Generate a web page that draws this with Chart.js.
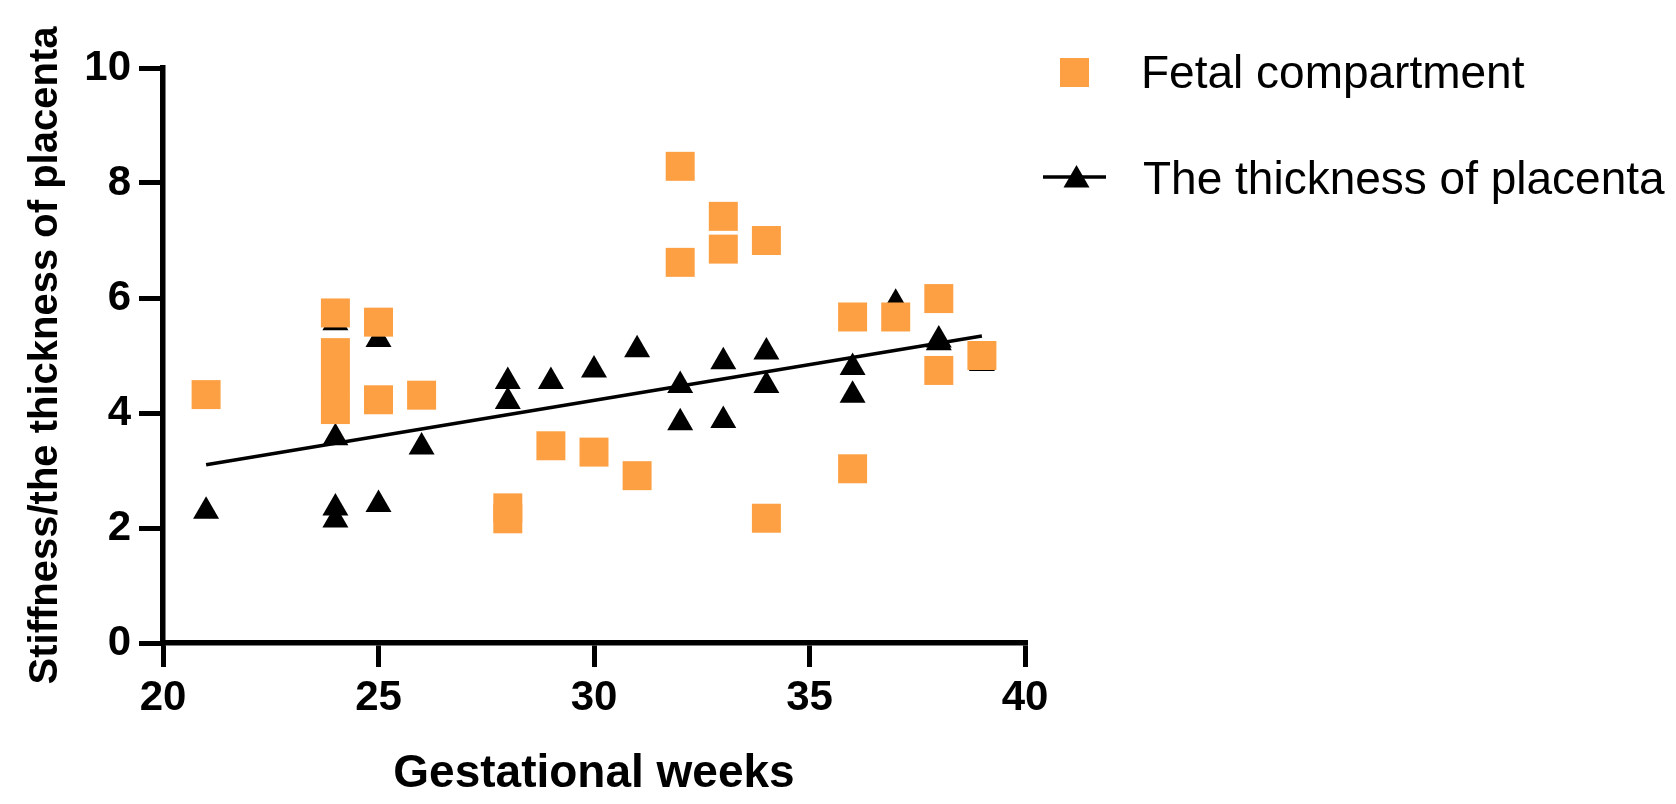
<!DOCTYPE html>
<html>
<head>
<meta charset="utf-8">
<script src="https://cdn.jsdelivr.net/npm/chart.js@4"></script>
<style>
  html, body { margin: 0; padding: 0; background: #ffffff; }
  #wrap { width: 1676px; height: 804px; position: relative; }
</style>
</head>
<body>
<div id="wrap"><canvas id="c" width="1676" height="804"></canvas></div>
<script>
// ---- Data ----
const fetalWeeks  = [21, 24, 24, 24, 24, 25, 25, 26, 28, 28, 29, 30, 31, 32, 32, 33, 33, 34, 34, 36, 36, 37, 38, 38, 39];
const fetalValues = [4.32, 5.74, 5.05, 4.55, 4.06, 5.58, 4.23, 4.31, 2.35, 2.16, 3.43, 3.32, 2.91, 8.29, 6.62, 7.42, 6.85, 7.00, 2.17, 5.67, 3.03, 5.67, 5.99, 4.74, 5.00];

const thickWeeks  = [21, 24, 24, 24, 24, 25, 25, 26, 28, 28, 29, 30, 31, 32, 32, 33, 33, 34, 34, 36, 36, 37, 38, 38, 39];
const thickValues = [2.29, 5.57, 3.57, 2.35, 2.14, 5.28, 2.41, 3.41, 4.55, 4.20, 4.55, 4.75, 5.10, 4.48, 3.83, 4.89, 3.87, 5.06, 4.48, 4.79, 4.31, 5.91, 5.27, 5.22, 4.86];

const fitWeeks  = [21, 39];
const fitValues = [3.10, 5.34];

const xTicks = [20, 25, 30, 35, 40];
const yTicks = [0, 2, 4, 6, 8, 10];

const seriesLabels = ['Fetal compartment', 'The thickness of placenta'];
const xTitle = 'Gestational weeks';
const yTitle = 'Stiffness/the thickness of placenta';

// ---- Styles ----
const ORANGE = '#FDA044';
const FONT = "'Liberation Sans', Arial, Helvetica, sans-serif";

const toPts = (xs, ys) => xs.map((x, i) => ({ x: x, y: ys[i] }));

const customLegend = {
  id: 'customLegend',
  afterDraw(chart) {
    const ctx = chart.ctx;
    const ds = chart.data.datasets;
    ctx.save();
    // entry 1: square
    ctx.fillStyle = ds[0].backgroundColor;
    ctx.fillRect(1060, 58, 29, 29);
    ctx.fillStyle = '#000';
    ctx.font = '46px ' + FONT;
    ctx.textBaseline = 'alphabetic';
    ctx.textAlign = 'left';
    ctx.fillText(ds[0].label, 1141, 88);
    // entry 2: line with triangle
    ctx.strokeStyle = '#000';
    ctx.lineWidth = 3.5;
    ctx.beginPath();
    ctx.moveTo(1043, 177);
    ctx.lineTo(1106, 177);
    ctx.stroke();
    const cx = 1076.5, cy = 180, r = 15;
    ctx.beginPath();
    ctx.moveTo(cx, cy - r);
    ctx.lineTo(cx + r * Math.sin(Math.PI / 3), cy + r / 2);
    ctx.lineTo(cx - r * Math.sin(Math.PI / 3), cy + r / 2);
    ctx.closePath();
    ctx.fillStyle = '#000';
    ctx.fill();
    ctx.fillText(ds[1].label, 1143, 194);
    ctx.restore();
  }
};

new Chart(document.getElementById('c'), {
  type: 'scatter',
  data: {
    datasets: [
      {
        label: seriesLabels[0],
        data: toPts(fetalWeeks, fetalValues),
        pointStyle: 'rect',
        pointRadius: 20.5,
        pointHoverRadius: 20.5,
        backgroundColor: ORANGE,
        borderWidth: 0,
        showLine: false,
        order: 0
      },
      {
        label: seriesLabels[1],
        data: toPts(thickWeeks, thickValues),
        pointStyle: 'triangle',
        pointRadius: 15,
        pointHoverRadius: 15,
        backgroundColor: '#000000',
        borderWidth: 0,
        showLine: false,
        order: 1
      },
      {
        label: 'fit',
        data: toPts(fitWeeks, fitValues),
        showLine: true,
        borderColor: '#000000',
        borderWidth: 3.5,
        pointRadius: 0,
        pointHoverRadius: 0,
        fill: false,
        order: 2
      }
    ]
  },
  options: {
    responsive: false,
    devicePixelRatio: 1,
    animation: false,
    events: [],
    layout: { padding: { top: 68, right: 651, bottom: 0, left: 0 } },
    plugins: { legend: { display: false }, tooltip: { enabled: false } },
    scales: {
      x: {
        type: 'linear',
        min: xTicks[0],
        max: xTicks[xTicks.length - 1],
        afterBuildTicks: (s) => { s.ticks = xTicks.map(v => ({ value: v })); },
        afterFit: (s) => { s.height = 161; },
        ticks: { color: '#000', font: { family: FONT, size: 42, weight: 'bold' }, padding: 6, maxRotation: 0 },
        grid: { drawOnChartArea: false, drawTicks: true, tickLength: 24, lineWidth: 5, color: '#000' },
        border: { display: true, width: 5.5, color: '#000' },
        title: { display: true, text: xTitle, color: '#000', font: { family: FONT, size: 46, weight: 'bold' }, padding: { top: 0, bottom: 2 } }
      },
      y: {
        type: 'linear',
        min: yTicks[0],
        max: yTicks[yTicks.length - 1],
        afterBuildTicks: (s) => { s.ticks = yTicks.map(v => ({ value: v })); },
        afterFit: (s) => { s.width = 163; },
        ticks: { color: '#000', font: { family: FONT, size: 42, weight: 'bold' }, padding: 8 },
        grid: { drawOnChartArea: false, drawTicks: true, tickLength: 24, lineWidth: 5, color: '#000' },
        border: { display: true, width: 5.5, color: '#000' },
        title: { display: true, text: yTitle, color: '#000', font: { family: FONT, size: 40, weight: 'bold' }, padding: { top: 22, bottom: 0 } }
      }
    }
  },
  plugins: [customLegend]
});
</script>
</body>
</html>
